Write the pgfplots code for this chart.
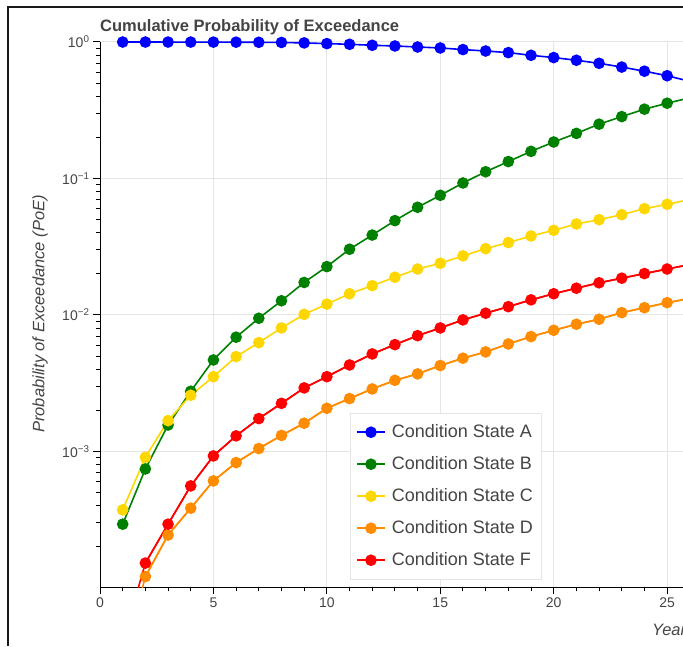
\documentclass[border=0pt]{standalone}
\usepackage{pgfplots}
\pgfplotsset{compat=1.18}
\usepackage{fontspec}
\setmainfont{Liberation Sans}
\definecolor{txt}{HTML}{444444}
\definecolor{gridc}{HTML}{E5E5E5}
\definecolor{csA}{HTML}{0000FF}
\definecolor{csB}{HTML}{008000}
\definecolor{csC}{HTML}{FFD700}
\definecolor{csD}{HTML}{FF8C00}
\definecolor{csF}{HTML}{FF0000}

% probability of exceedance per year and condition state
\pgfplotstableread{
x A B C D F
1 0.9995 0.000293 0.000373 0.000028 0.000040
2 0.9993 0.000744 0.000906 0.000121 0.000152
3 0.9990 0.00156 0.00168 0.000244 0.000293
4 0.9985 0.00276 0.00258 0.000384 0.000559
5 0.9980 0.00468 0.00353 0.000608 0.000927
6 0.9970 0.00687 0.00495 0.000828 0.00130
7 0.9950 0.00946 0.00627 0.00105 0.00174
8 0.9920 0.0127 0.00803 0.00131 0.00225
9 0.9850 0.0173 0.0101 0.00161 0.00292
10 0.973 0.0226 0.0120 0.00207 0.00353
11 0.962 0.0303 0.0143 0.00244 0.00430
12 0.946 0.0385 0.0164 0.00287 0.00518
13 0.935 0.0491 0.0189 0.00332 0.00606
14 0.919 0.0615 0.0217 0.00370 0.00705
15 0.904 0.0753 0.0239 0.00426 0.00803
16 0.880 0.0927 0.0271 0.00482 0.00920
17 0.859 0.112 0.0306 0.00536 0.0103
18 0.836 0.133 0.0339 0.00613 0.0115
19 0.799 0.158 0.0379 0.00694 0.0129
20 0.769 0.185 0.0417 0.00772 0.0143
21 0.735 0.214 0.0464 0.00855 0.0157
22 0.698 0.250 0.0499 0.00930 0.0172
23 0.655 0.284 0.0543 0.0104 0.0186
24 0.611 0.322 0.0601 0.0113 0.0201
25 0.566 0.356 0.0647 0.0123 0.0217
26 0.515 0.390 0.0700 0.0132 0.0234
}\poe

\begin{document}
\begin{tikzpicture}[x=1pt,y=1pt]
\useasboundingbox (0,0) rectangle (683,646);
\clip (0,0) rectangle (683,646);
\begin{axis}[
    at={(100pt,58.7pt)}, anchor=south west,
    scale only axis, width=583pt, height=545.3pt,
    ymode=log, xmin=0, xmax=25.7, ymin=1.01e-4, ymax=1,
    axis x line=bottom, axis y line=left,
    axis line style={-, line width=1pt, black},
    tick align=outside, major tick length=7pt, minor tick length=4pt,
    tick style={line width=1pt, black},
    xtick={0,5,...,25}, minor x tick num=4,
    ytick={1e-3,1e-2,1e-1,1},
    yticklabels={10\textsuperscript{−3},10\textsuperscript{−2},10\textsuperscript{−1},10\textsuperscript{0}},
    minor ytick={2e-4,3e-4,4e-4,5e-4,6e-4,7e-4,8e-4,9e-4,
                 2e-3,3e-3,4e-3,5e-3,6e-3,7e-3,8e-3,9e-3,
                 2e-2,3e-2,4e-2,5e-2,6e-2,7e-2,8e-2,9e-2,
                 0.2,0.3,0.4,0.5,0.6,0.7,0.8,0.9},
    xmajorgrids, ymajorgrids,
    major grid style={gridc, line width=1pt},
    /pgf/number format/assume math mode=true,
    tick label style={font=\fontsize{14}{14}\selectfont, text=txt},
    every axis plot/.append style={line width=1.6pt, mark=*, mark size=5pt},
    legend style={at={(0.4288,0.3196)}, anchor=north west, draw=gridc, fill=white,
        inner xsep=6pt, inner ysep=9pt, row sep=12pt, column sep=4pt,
        font=\fontsize{18}{18}\selectfont, text=txt,
        nodes={inner sep=2pt, text height=13pt, text depth=3pt}},
    legend cell align=left,
    legend image code/.code={\draw[mark repeat=2,mark phase=2,#1] plot coordinates {(0pt,0pt)(14pt,0pt)(28pt,0pt)};},
]
\addplot[color=csA, mark options={fill=csA}] table[x=x, y=A] {\poe};
\addlegendentry{Condition State A}
\addplot[color=csB, mark options={fill=csB}] table[x=x, y=B] {\poe};
\addlegendentry{Condition State B}
\addplot[color=csC, mark options={fill=csC}] table[x=x, y=C] {\poe};
\addlegendentry{Condition State C}
% year 1 of D and F lies below the axis: line only for that segment
\addplot[color=csD, no markers, forget plot] table[x=x, y=D] {\poe};
\addplot[color=csD, mark options={fill=csD}, skip coords between index={0}{1}] table[x=x, y=D] {\poe};
\addlegendentry{Condition State D}
\addplot[color=csF, no markers, forget plot] table[x=x, y=F] {\poe};
\addplot[color=csF, mark options={fill=csF}, skip coords between index={0}{1}] table[x=x, y=F] {\poe};
\addlegendentry{Condition State F}
\end{axis}
\node[anchor=base west, text=txt, font=\fontsize{16.5}{16.5}\selectfont\bfseries, inner sep=0pt] at (100,614.5) {Cumulative Probability of Exceedance};
\node[rotate=90, text=txt, font=\fontsize{16.5}{16.5}\selectfont\itshape, inner sep=0pt] at (40,332) {Probability of Exceedance (PoE)};
\node[anchor=base west, text=txt, font=\fontsize{16.5}{16.5}\selectfont\itshape, inner sep=0pt] at (652,11) {Years};
\draw[line width=2.4pt, black!90] (8,0) -- (8,639) -- (690,639);
\end{tikzpicture}
\end{document}
